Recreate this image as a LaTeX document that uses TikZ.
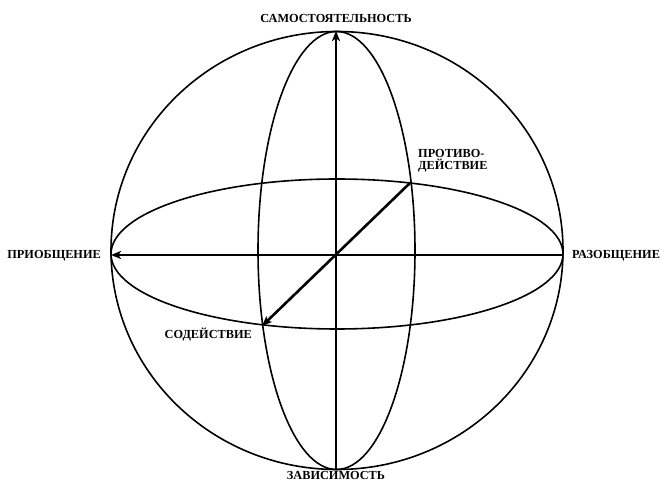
\documentclass[tikz,border=0pt]{standalone}
\usepackage{fontspec}
\setmainfont{Liberation Serif}
\usetikzlibrary{arrows.meta}
\begin{document}
\begin{tikzpicture}[x=1pt,y=1pt,
  orbit/.style={line width=1.6pt},
  axis/.style={line width=2.6pt,-{Stealth[length=10pt,width=8pt,inset=2.5pt]}},
  lbl/.style={font=\bfseries\fontsize{12.3}{12}\selectfont,inner sep=0pt,align=left}]
\useasboundingbox (0,0) rectangle (664,482);
% big ellipse, vertical ellipse, horizontal ellipse
\draw[orbit] (337,231.5) ellipse [x radius=226, y radius=219];
\draw[orbit] (336.5,231.5) ellipse [x radius=78.5, y radius=219];
\draw[orbit] (337,228) ellipse [x radius=226, y radius=75];
% coordinates
\coordinate (c) at (336,227);
\coordinate (top) at (336,451);
\coordinate (bot) at (336,13);
\coordinate (left) at (111,227);
\coordinate (right) at (563,227);
\coordinate (ur) at (410,299);
\coordinate (ll) at (262,156);
\draw[axis] (bot) -- (top);
\draw[axis] (right) -- (left);
\draw[axis] (ur) -- (ll);
% labels
\node[lbl] (samo) at (336,464) {САМОСТОЯТЕЛЬНОСТЬ};
\node[lbl,anchor=base] (zav) at (336,2) {ЗАВИСИМОСТЬ};
\node[lbl,anchor=east] (prio) at (101,226) {ПРИОБЩЕНИЕ};
\node[lbl,anchor=west] (razo) at (572,226) {РАЗОБЩЕНИЕ};
\node[lbl,anchor=west] (prot) at (418,321) {ПРОТИВО-\\ДЕЙСТВИЕ};
\node[lbl,anchor=east] (sod) at (252,147) {СОДЕЙСТВИЕ};
\end{tikzpicture}
\end{document}
